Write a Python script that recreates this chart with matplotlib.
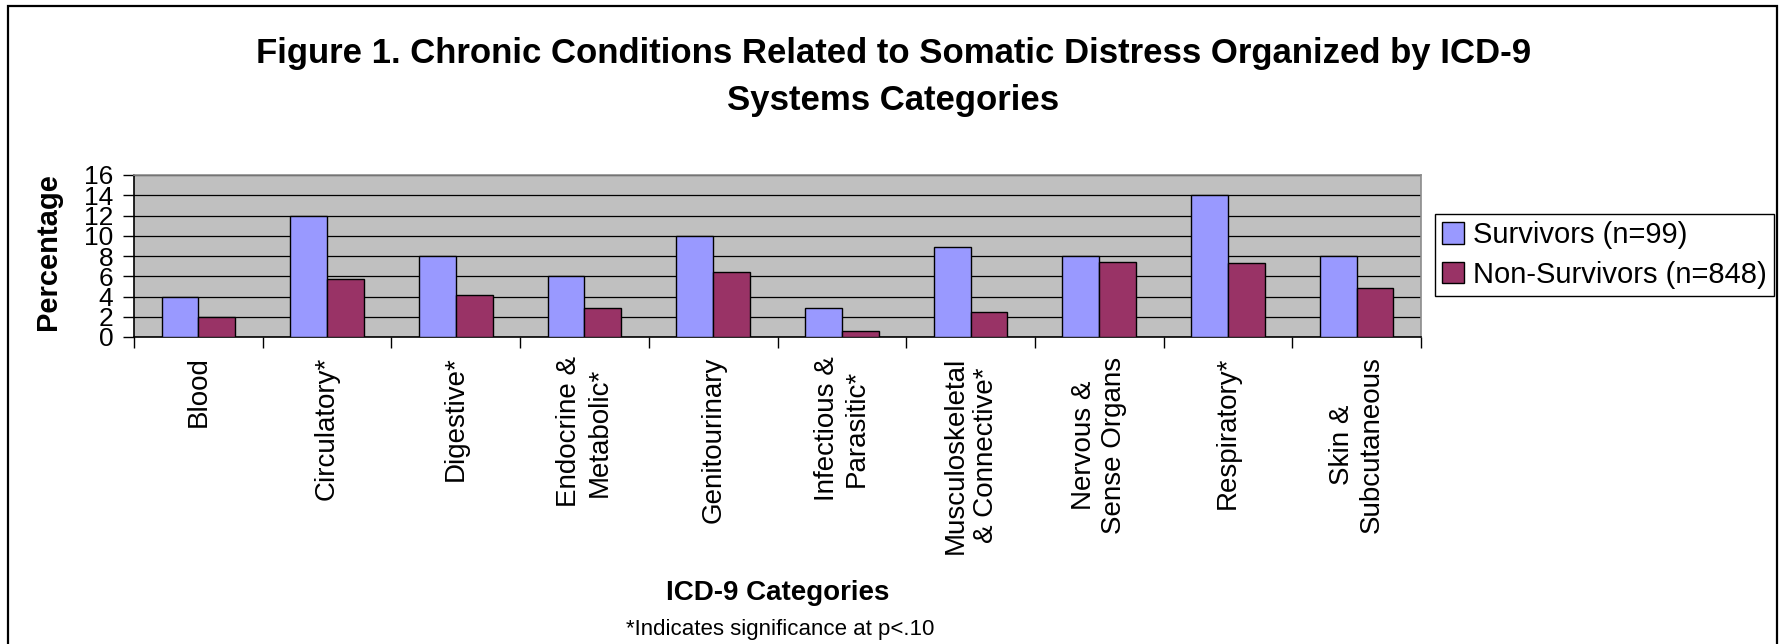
import matplotlib
matplotlib.use("Agg")
import matplotlib.pyplot as plt
from matplotlib.patches import Rectangle
import numpy as np

plt.rcParams['font.family'] = ['Liberation Sans', 'DejaVu Sans']

# ICD-9 categories and percentages
categories = ['Blood', 'Circulatory*', 'Digestive*', 'Endocrine &\nMetabolic*',
              'Genitourinary', 'Infectious &\nParasitic*', 'Musculoskeletal\n& Connective*',
              'Nervous &\nSense Organs', 'Respiratory*', 'Skin &\nSubcutaneous']
survivors = [4.0, 12.0, 8.0, 6.0, 10.0, 2.9, 8.9, 8.0, 14.0, 8.0]
non_survivors = [2.0, 5.7, 4.1, 2.9, 6.4, 0.6, 2.5, 7.45, 7.3, 4.8]
yticks = [0, 2, 4, 6, 8, 10, 12, 14, 16]

W, H = 1787, 644
fig = plt.figure(figsize=(W / 100, H / 100), dpi=100)

# axes box in pixels: left 134, right 1421, top 175, bottom 337
ax = fig.add_axes([134 / W, 1 - 337 / H, (1421 - 134) / W, (337 - 175) / H])
ax.set_facecolor('#C0C0C0')

x = np.arange(len(categories))
w = 1 / 3.5
ax.bar(x - w / 2, survivors, w, color='#9999FF', edgecolor='black', linewidth=1.0,
       label='Survivors (n=99)', zorder=3)
ax.bar(x + w / 2, non_survivors, w, color='#993366', edgecolor='black', linewidth=1.0,
       label='Non-Survivors (n=848)', zorder=3)

ax.set_xlim(-0.5, len(categories) - 0.5)
ax.set_ylim(0, 16)
ax.set_yticks(yticks)
ax.set_yticklabels([str(v) for v in yticks], fontsize=19)
ax.yaxis.grid(True, color='black', linewidth=0.9)
ax.set_axisbelow(True)

# category labels in the middle, tick marks on the boundaries
ax.set_xticks(x)
ax.set_xticklabels(categories, rotation=90, fontsize=20, va='top', ha='center',
                   multialignment='center')
ax.tick_params(axis='x', which='major', length=0, pad=14)
ax.set_xticks(np.arange(-0.5, len(categories), 1), minor=True)
ax.tick_params(axis='x', which='minor', length=8, width=1, direction='out', color='black')
ax.tick_params(axis='y', length=8, width=1, direction='out', pad=7)

for s in ['left', 'bottom']:
    ax.spines[s].set_color('black')
    ax.spines[s].set_linewidth(1.2)
for s in ['top', 'right']:
    ax.spines[s].set_color('#8C8C8C')
    ax.spines[s].set_linewidth(1.2)

fig.text(48 / W, 1 - 252 / H, 'Percentage', rotation=90, fontsize=21,
         fontweight='bold', ha='center', va='center')

fig.text(0.5, 1 - 63 / H,
         'Figure 1. Chronic Conditions Related to Somatic Distress Organized by ICD-9',
         fontsize=25, fontweight='bold', ha='center', va='baseline')
fig.text(0.5, 1 - 110 / H, 'Systems Categories', fontsize=25, fontweight='bold',
         ha='center', va='baseline')

fig.text(778 / W, 1 - 593 / H, 'ICD-9 Categories', fontsize=20, fontweight='bold',
         ha='center', va='center')
fig.text(780 / W, 1 - 630 / H, '*Indicates significance at p<.10', fontsize=16,
         ha='center', va='center')

leg = fig.legend(loc='upper left', bbox_to_anchor=(1435 / W, 1 - 214 / H),
                 bbox_transform=fig.transFigure, fontsize=21, frameon=True,
                 fancybox=False, edgecolor='black', framealpha=1, borderaxespad=0,
                 borderpad=0.25, handlelength=0.75, handleheight=0.75,
                 handletextpad=0.3, labelspacing=0.4)
leg.get_frame().set_linewidth(1.0)

# outer chart border
fig.add_artist(Rectangle((8 / W, -0.05), (1777 - 8) / W, 1.05 - 6 / H,
                         transform=fig.transFigure, fill=False,
                         edgecolor='black', linewidth=1.6))

fig.savefig('out.png', dpi=100)
